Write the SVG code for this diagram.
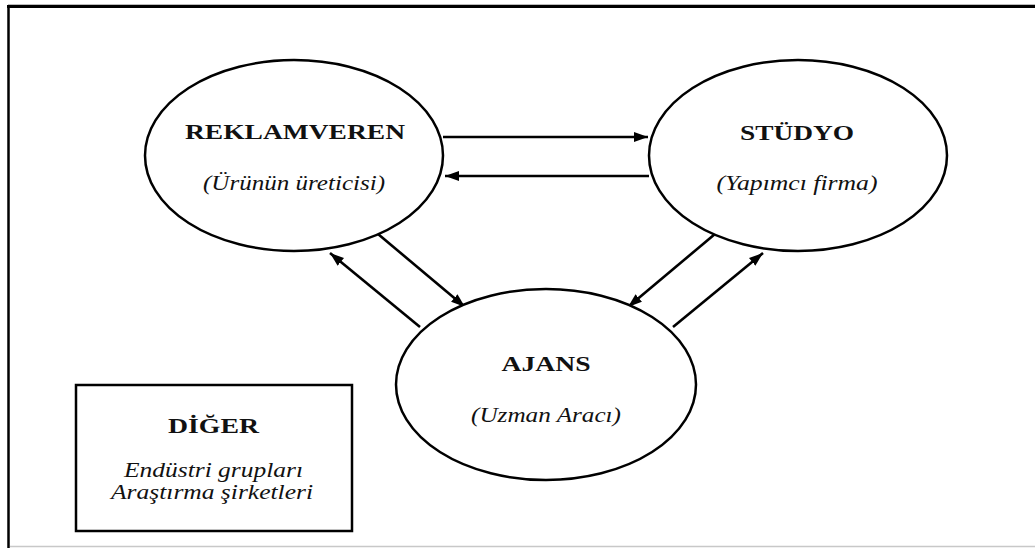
<svg xmlns="http://www.w3.org/2000/svg" width="1035" height="548" viewBox="0 0 1035 548">
<style>
.node{fill:#fff;stroke:#000;stroke-width:2.5}
.b{font-family:'Liberation Serif','DejaVu Serif','Times New Roman',serif;font-weight:bold;font-size:21px;fill:#111;text-anchor:middle}
.i{font-family:'Liberation Serif','DejaVu Serif','Times New Roman',serif;font-style:italic;font-size:20px;fill:#111;text-anchor:middle}
.con{stroke:#000;stroke-width:2.6;fill:none;marker-end:url(#ah)}
</style>
<defs>
<marker id="ah" markerUnits="userSpaceOnUse" markerWidth="16" markerHeight="12" refX="14" refY="5.5" orient="auto">
<path d="M0,0.5 L14,5.5 L0,10.5 z" fill="#000"/>
</marker>
</defs>
<rect x="0" y="0" width="1035" height="548" fill="#fff"/>
<g id="frame">
<line x1="8" y1="4.5" x2="1035" y2="4.5" stroke="#bbb" stroke-width="1"/>
<line x1="7" y1="6.5" x2="1035" y2="6.5" stroke="#000" stroke-width="3"/>
<line x1="8.5" y1="5" x2="8.5" y2="548" stroke="#000" stroke-width="2.5"/>
<line x1="10" y1="546.5" x2="1035" y2="546.5" stroke="#c8c8c8" stroke-width="1.5"/>
</g>
<g id="connectors">
<line class="con" x1="443" y1="137" x2="648" y2="137"/>
<line class="con" x1="649" y1="176" x2="445" y2="176"/>
<line class="con" x1="378" y1="234" x2="465" y2="307"/>
<line class="con" x1="420" y1="327" x2="330" y2="253"/>
<line class="con" x1="715" y1="234" x2="628" y2="307"/>
<line class="con" x1="673" y1="327" x2="763" y2="253"/>
</g>
<g id="reklamveren">
<ellipse class="node" cx="294" cy="155.5" rx="149" ry="95.5"/>
<text class="b" x="295" y="139" textLength="220" lengthAdjust="spacingAndGlyphs">REKLAMVEREN</text>
<text class="i" x="294" y="190" textLength="182" lengthAdjust="spacingAndGlyphs">(Ürünün üreticisi)</text>
</g>
<g id="studyo">
<ellipse class="node" cx="798" cy="155.5" rx="149" ry="95.5"/>
<text class="b" x="797" y="140" textLength="114" lengthAdjust="spacingAndGlyphs">STÜDYO</text>
<text class="i" x="797" y="190" textLength="161" lengthAdjust="spacingAndGlyphs">(Yapımcı firma)</text>
</g>
<g id="ajans">
<ellipse class="node" cx="546" cy="384.5" rx="150" ry="95.5"/>
<text class="b" x="546" y="371" textLength="89" lengthAdjust="spacingAndGlyphs">AJANS</text>
<text class="i" x="546" y="422" textLength="150" lengthAdjust="spacingAndGlyphs">(Uzman Aracı)</text>
</g>
<g id="diger">
<rect x="76" y="385" width="276" height="146" fill="#fff" stroke="#000" stroke-width="2.5"/>
<text class="b" x="213.5" y="433" textLength="91" lengthAdjust="spacingAndGlyphs">DİĞER</text>
<text class="i" x="213.5" y="477" textLength="179" lengthAdjust="spacingAndGlyphs">Endüstri grupları</text>
<text class="i" x="212" y="499" textLength="202" lengthAdjust="spacingAndGlyphs">Araştırma şirketleri</text>
</g>
</svg>
